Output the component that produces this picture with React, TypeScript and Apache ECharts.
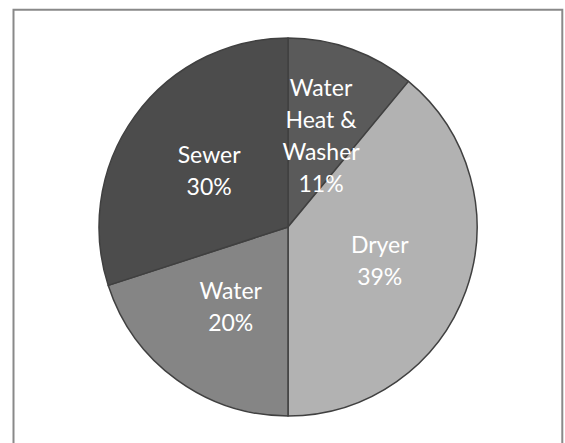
import React, { useEffect, useRef } from "react";
import * as echarts from "echarts";

const categories = ["Water\nHeat &\nWasher", "Dryer", "Water", "Sewer"];
const values = [11, 39, 20, 30];
const colors = ["#5a5a5a", "#b2b2b2", "#858585", "#4c4c4c"];

export default function App() {
  const ref = useRef<HTMLDivElement>(null);
  useEffect(() => {
    if (!ref.current) return;
    const chart = echarts.init(ref.current, undefined, { renderer: "svg" });
    chart.setOption({
      animation: false,
      backgroundColor: "#ffffff",
      graphic: [
        {
          type: "rect",
          shape: { x: 13.5, y: 9.7, width: 548.8, height: 445 },
          style: { fill: "none", stroke: "#898989", lineWidth: 2 },
          silent: true,
        },
      ],
      series: [
        {
          type: "pie",
          center: [288, 227],
          radius: 189,
          startAngle: 90,
          clockwise: true,
          data: categories.map((name, i) => ({
            name,
            value: values[i],
            itemStyle: { color: colors[i] },
          })),
          itemStyle: { borderColor: "#404040", borderWidth: 1.5 },
          label: {
            show: true,
            position: "inside",
            color: "#ffffff",
            fontFamily: "Lato",
            fontSize: 23,
            lineHeight: 32,
            align: "center",
            formatter: (p: any) => `${p.name}\n${p.value}%`,
          },
          labelLine: { show: false },
          emphasis: { disabled: true },
        },
      ],
    });
    return () => chart.dispose();
  }, []);
  return (
    <div
      ref={ref}
      style={{ position: "fixed", left: 0, top: 0, width: 565, height: 443 }}
    />
  );
}
